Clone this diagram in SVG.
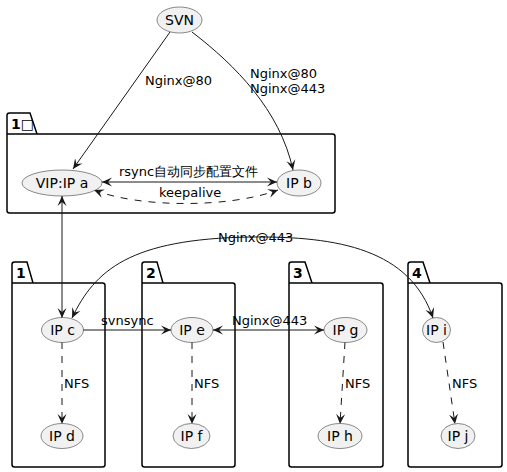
<svg xmlns="http://www.w3.org/2000/svg" width="507" height="472" viewBox="0 0 507 472">
<style>
.pkg{fill:none;stroke:#000;stroke-width:1.5}
.pt{font-family:"DejaVu Sans",sans-serif;font-size:14px;font-weight:bold;fill:#000}
.nd{fill:#F1F1F1;stroke:#181818;stroke-width:0.5}
.nt{font-family:"DejaVu Sans",sans-serif;font-size:14px;fill:#000;text-anchor:middle}
.ln{fill:none;stroke:#181818;stroke-width:1}
.da{stroke-dasharray:7,7}
.lt{font-family:"DejaVu Sans",sans-serif;font-size:13px;fill:#000}
</style>
<defs>
<marker id="ah" viewBox="0 0 10 10" refX="10" refY="5" markerWidth="10" markerHeight="10" markerUnits="userSpaceOnUse" orient="auto-start-reverse">
<path d="M0,0.5 L10,5 L0,9.5 L4,5 Z" fill="#181818"/>
</marker>
</defs>
<rect width="507" height="472" fill="#fff"/>
<g id="pkg-top">
<path class="pkg" d="M7,134 L7,115.5 Q7,113 9.5,113 L30,113 L37,134 L332.5,134 Q335,134 335,136.5 L335,210.5 Q335,213 332.5,213 L9.5,213 Q7,213 7,210.5 Z M7,134 L37,134"/>
<text class="pt" x="11" y="129">1□</text>
</g>
<g id="pkg-1">
<path class="pkg" d="M12,283 L12,264.5 Q12,262 14.5,262 L27,262 L33,283 L102.5,283 Q105,283 105,285.5 L105,464.5 Q105,467 102.5,467 L14.5,467 Q12,467 12,464.5 Z M12,283 L33,283"/>
<text class="pt" x="16" y="278">1</text>
</g>
<g id="pkg-2">
<path class="pkg" d="M142,283 L142,264.5 Q142,262 144.5,262 L157,262 L163,283 L232.5,283 Q235,283 235,285.5 L235,464.5 Q235,467 232.5,467 L144.5,467 Q142,467 142,464.5 Z M142,283 L163,283"/>
<text class="pt" x="146" y="278">2</text>
</g>
<g id="pkg-3">
<path class="pkg" d="M289,283 L289,264.5 Q289,262 291.5,262 L305,262 L312,283 L380.5,283 Q383,283 383,285.5 L383,464.5 Q383,467 380.5,467 L291.5,467 Q289,467 289,464.5 Z M289,283 L312,283"/>
<text class="pt" x="293" y="278">3</text>
</g>
<g id="pkg-4">
<path class="pkg" d="M408,283 L408,264.5 Q408,262 410.5,262 L423,262 L430,283 L499.5,283 Q502,283 502,285.5 L502,464.5 Q502,467 499.5,467 L410.5,467 Q408,467 408,464.5 Z M408,283 L430,283"/>
<text class="pt" x="412" y="278">4</text>
</g>
<g id="connectors">
<path class="ln" d="M170,32 L73,169" marker-end="url(#ah)"/>
<text class="lt" x="145" y="85">Nginx@80</text>
<path class="ln" d="M192,32 C235,65 280,110 293,170" marker-end="url(#ah)"/>
<text class="lt" x="250" y="78">Nginx@80</text>
<text class="lt" x="250" y="93">Nginx@443</text>
<path class="ln" d="M102,182 L277,182" marker-start="url(#ah)" marker-end="url(#ah)"/>
<text class="lt" x="119" y="176">rsync自动同步配置文件</text>
<path class="ln da" d="M94,190 C140,208 230,208 278,190" marker-start="url(#ah)" marker-end="url(#ah)"/>
<text class="lt" x="159" y="197">keepalive</text>
<path class="ln" d="M62,196 L62,318" marker-start="url(#ah)" marker-end="url(#ah)"/>
<path class="ln" d="M72,318 C95,270 130,239 250,237 C340,236 410,250 433,318" marker-start="url(#ah)" marker-end="url(#ah)"/>
<text class="lt" x="218" y="242">Nginx@443</text>
<path class="ln" d="M83,330 L171,330" marker-end="url(#ah)"/>
<text class="lt" x="101" y="325">svnsync</text>
<path class="ln" d="M213,330 L324,330" marker-start="url(#ah)" marker-end="url(#ah)"/>
<text class="lt" x="232" y="325">Nginx@443</text>
<path class="ln da" d="M62,342 L62,424" marker-end="url(#ah)"/>
<text class="lt" x="64" y="388">NFS</text>
<path class="ln da" d="M192,342 L192,424" marker-end="url(#ah)"/>
<text class="lt" x="194" y="388">NFS</text>
<path class="ln da" d="M345,342 L340,424" marker-end="url(#ah)"/>
<text class="lt" x="345" y="388">NFS</text>
<path class="ln da" d="M443,342 L455,424" marker-end="url(#ah)"/>
<text class="lt" x="452" y="388">NFS</text>
</g>
<g id="n-svn"><ellipse class="nd" cx="179.5" cy="20" rx="22.5" ry="13"/><text class="nt" x="179.5" y="25">SVN</text></g>
<g id="n-a"><ellipse class="nd" cx="62" cy="183" rx="40" ry="13"/><text class="nt" x="62" y="188">VIP:IP a</text></g>
<g id="n-b"><ellipse class="nd" cx="299" cy="183" rx="22" ry="13"/><text class="nt" x="299" y="188">IP b</text></g>
<g id="n-c"><ellipse class="nd" cx="62.5" cy="330" rx="21" ry="12.5"/><text class="nt" x="62.5" y="335">IP c</text></g>
<g id="n-d"><ellipse class="nd" cx="62" cy="436" rx="21" ry="12.5"/><text class="nt" x="62" y="441">IP d</text></g>
<g id="n-e"><ellipse class="nd" cx="192" cy="330" rx="21" ry="12.5"/><text class="nt" x="192" y="335">IP e</text></g>
<g id="n-f"><ellipse class="nd" cx="191.5" cy="436" rx="18.5" ry="12.5"/><text class="nt" x="191.5" y="441">IP f</text></g>
<g id="n-g"><ellipse class="nd" cx="345.5" cy="330" rx="21.5" ry="12.5"/><text class="nt" x="345.5" y="335">IP g</text></g>
<g id="n-h"><ellipse class="nd" cx="340" cy="436" rx="22" ry="12.5"/><text class="nt" x="340" y="441">IP h</text></g>
<g id="n-i"><ellipse class="nd" cx="436.5" cy="330" rx="14" ry="12.5"/><text class="nt" x="436.5" y="335">IP i</text></g>
<g id="n-j"><ellipse class="nd" cx="458" cy="436" rx="17" ry="12.5"/><text class="nt" x="458" y="441">IP j</text></g>
</svg>
